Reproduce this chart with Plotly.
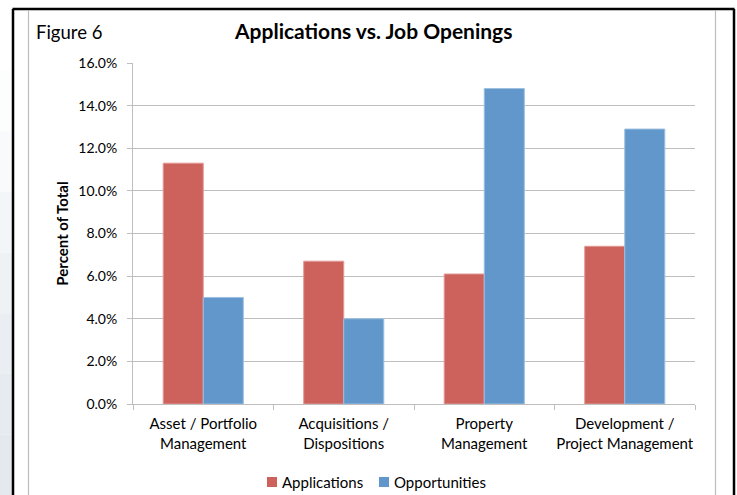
import plotly.graph_objects as go

# chart data
categories = [
    "Asset / Portfolio<br>Management",
    "Acquisitions /<br>Dispositions",
    "Property<br>Management",
    "Development /<br>Project Management",
]
series_names = ["Applications", "Opportunities"]
applications = [11.3, 6.7, 6.1, 7.4]
opportunities = [5.0, 4.0, 14.8, 12.9]
y_ticks = [0, 2, 4, 6, 8, 10, 12, 14, 16]

FONT = "Lato"
RED = "#CD625D"
BLUE = "#6197CA"
GRID = "#BEBEBE"

W, H = 737, 495
PL, PR, PT, PB = 133, 695, 63, 404  # plot area in pixels


def px(x):
    return (x - PL) / (PR - PL)


def py(y):
    return (PB - y) / (PB - PT)


fig = go.Figure()

fig.add_trace(go.Bar(
    x=categories, y=applications, name=series_names[0],
    marker=dict(color=RED, line=dict(color="#E29A96", width=1)),
))
fig.add_trace(go.Bar(
    x=categories, y=opportunities, name=series_names[1],
    marker=dict(color=BLUE, line=dict(color="#9DBFE0", width=1)),
))

shapes = []
# left page strip (light gradient)
steps = ["#FFFFFF", "#FCFDFD", "#F8FAFB", "#F3F6F8", "#EEF2F5", "#EAEEF2", "#E6EBEF", "#E4E9EE"]
n = len(steps)
for i, c in enumerate(steps):
    y0 = 10 + i * (H - 10) / n
    y1 = 10 + (i + 1) * (H - 10) / n
    shapes.append(dict(type="rect", xref="paper", yref="paper",
                       x0=px(0), x1=px(12), y0=py(y1), y1=py(y0),
                       fillcolor=c, line=dict(width=0), layer="below"))
# black frame
shapes.append(dict(type="line", xref="paper", yref="paper",
                   x0=px(12.5), x1=px(734.5), y0=py(9), y1=py(9),
                   line=dict(color="black", width=2.5)))
shapes.append(dict(type="line", xref="paper", yref="paper",
                   x0=px(13), x1=px(13), y0=py(9), y1=py(H + 2),
                   line=dict(color="black", width=2.5)))
shapes.append(dict(type="line", xref="paper", yref="paper",
                   x0=px(734), x1=px(734), y0=py(9), y1=py(H + 2),
                   line=dict(color="black", width=2.5)))
# grey chart-area edges
shapes.append(dict(type="line", xref="paper", yref="paper",
                   x0=px(28.5), x1=px(28.5), y0=py(10), y1=py(H + 2),
                   line=dict(color="#BDBDBD", width=1.2)))
shapes.append(dict(type="line", xref="paper", yref="paper",
                   x0=px(715.5), x1=px(715.5), y0=py(10), y1=py(H + 2),
                   line=dict(color="#BDBDBD", width=1.2)))

annotations = [
    dict(text="<b>Applications vs. Job Openings</b>", xref="paper", yref="paper",
         x=px(372.5), y=py(30), xanchor="center", yanchor="middle",
         showarrow=False, font=dict(family=FONT, size=21, color="black")),
    dict(text="Figure 6", xref="paper", yref="paper",
         x=px(34), y=py(32), xanchor="left", yanchor="middle",
         showarrow=False, font=dict(family=FONT, size=18.5, color="black")),
]

# legend drawn by hand so the spacing matches the Excel layout
legend_items = [(series_names[0], RED, 267), (series_names[1], BLUE, 379)]
for name, color, lx in legend_items:
    shapes.append(dict(type="rect", xref="paper", yref="paper",
                       x0=px(lx), x1=px(lx + 10), y0=py(487), y1=py(477),
                       fillcolor=color, line=dict(width=0)))
    annotations.append(dict(text=name, xref="paper", yref="paper",
                            x=px(lx + 13), y=py(482), xanchor="left", yanchor="middle",
                            showarrow=False, font=dict(family=FONT, size=15, color="black")))

fig.update_layout(
    width=W, height=H,
    margin=dict(l=PL, r=W - PR, t=PT, b=H - PB, pad=0, autoexpand=False),
    paper_bgcolor="white", plot_bgcolor="white",
    barmode="group", bargap=0.43, bargroupgap=0,
    font=dict(family=FONT, size=15, color="black"),
    shapes=shapes, annotations=annotations,
    showlegend=False,
    xaxis=dict(showline=True, linecolor=GRID, linewidth=1,
               ticks="outside", tickson="boundaries", ticklen=5,
               tickcolor=GRID, showgrid=False, tickfont=dict(size=15),
               tickangle=0, ticklabelstandoff=6, automargin=False),
    yaxis=dict(range=[0, 16], tickvals=y_ticks,
               ticktext=[f"{v:.1f}%" for v in y_ticks],
               showline=True, linecolor=GRID, linewidth=1,
               ticks="outside", ticklen=5, tickcolor=GRID,
               showgrid=True, gridcolor=GRID, gridwidth=1, zeroline=False,
               tickfont=dict(size=14), ticklabelstandoff=7, automargin=False,
               title=dict(text="<b>Percent of Total</b>", standoff=6,
                          font=dict(size=15))),
)

# page body has a default 8px margin; remove it so the figure sits at 0,0
fig.write_html("out.html", config={"displayModeBar": False},
               post_script="document.body.style.margin='0';")
